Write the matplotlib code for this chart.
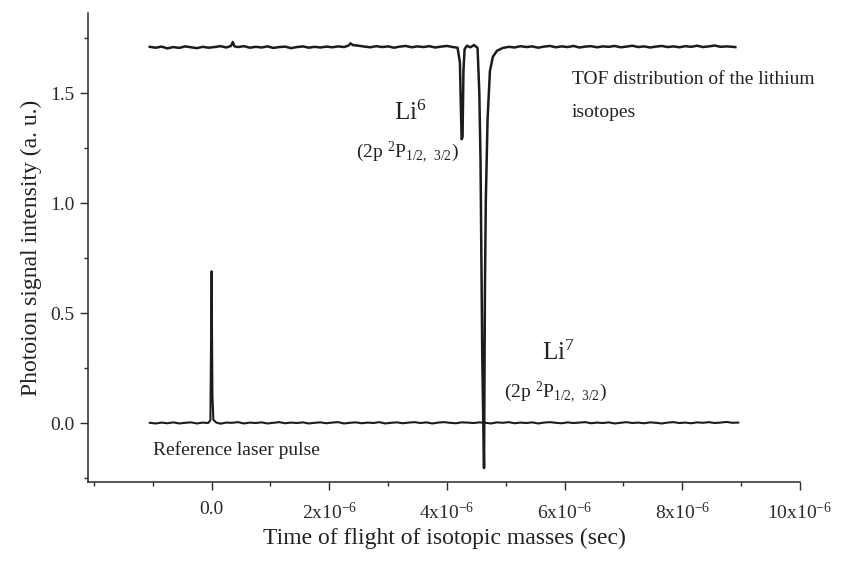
import matplotlib
matplotlib.use("Agg")
import matplotlib.pyplot as plt
from matplotlib.ticker import MultipleLocator, FuncFormatter

plt.rcParams['font.family'] = ['Liberation Serif', 'DejaVu Serif']
plt.rcParams['mathtext.default'] = 'regular'
plt.rcParams['axes.unicode_minus'] = False

# --- TOF trace of the lithium isotopes (time in microseconds, signal in a.u.) ---
tof_t = [-1.05, -0.95, -0.85, -0.75, -0.65, -0.55, -0.45, -0.35, -0.25, -0.15,
         -0.05, 0.05, 0.15, 0.25, 0.33, 0.36, 0.39, 0.45, 0.55, 0.65,
         0.75, 0.85, 0.95, 1.05, 1.15, 1.25, 1.35, 1.45, 1.55, 1.65,
         1.75, 1.85, 1.95, 2.05, 2.15, 2.25, 2.33, 2.36, 2.40, 2.50,
         2.60, 2.70, 2.80, 2.90, 3.00, 3.10, 3.20, 3.30, 3.40, 3.50,
         3.60, 3.70, 3.80, 3.90, 4.00, 4.10, 4.18,
         4.22, 4.235, 4.25, 4.265, 4.28, 4.30, 4.34, 4.40, 4.46, 4.52,
         4.55, 4.57, 4.60, 4.63, 4.645, 4.66, 4.69, 4.73, 4.78, 4.85,
         4.95, 5.05, 5.15, 5.25, 5.35, 5.45, 5.55, 5.65, 5.75, 5.85,
         5.95, 6.05, 6.15, 6.25, 6.35, 6.45, 6.55, 6.65, 6.75, 6.85,
         6.95, 7.05, 7.15, 7.25, 7.35, 7.45, 7.55, 7.65, 7.75, 7.85,
         7.95, 8.05, 8.15, 8.25, 8.35, 8.45, 8.55, 8.65, 8.75, 8.90]
tof_s = [1.710, 1.706, 1.711, 1.703, 1.709, 1.705, 1.712, 1.708, 1.704, 1.710,
         1.706, 1.709, 1.713, 1.707, 1.714, 1.732, 1.712, 1.709, 1.713, 1.706,
         1.710, 1.707, 1.712, 1.705, 1.709, 1.711, 1.704, 1.709, 1.712, 1.706,
         1.710, 1.707, 1.711, 1.708, 1.712, 1.709, 1.716, 1.726, 1.718, 1.715,
         1.711, 1.708, 1.713, 1.709, 1.712, 1.706, 1.711, 1.714, 1.708, 1.712,
         1.709, 1.713, 1.707, 1.711, 1.714, 1.709, 1.706,
         1.640, 1.450, 1.290, 1.300, 1.600, 1.700, 1.715, 1.708, 1.718, 1.705,
         1.500, 1.200, 0.300, -0.205, 0.600, 1.010, 1.380, 1.600, 1.665, 1.692,
         1.705, 1.710, 1.707, 1.713, 1.709, 1.712, 1.706, 1.711, 1.714, 1.708,
         1.712, 1.709, 1.714, 1.707, 1.711, 1.713, 1.708, 1.712, 1.710, 1.714,
         1.708, 1.711, 1.715, 1.709, 1.712, 1.707, 1.711, 1.714, 1.709, 1.712,
         1.708, 1.713, 1.710, 1.715, 1.709, 1.712, 1.716, 1.710, 1.712, 1.709]

# --- reference laser pulse trace ---
ref_t = [-1.05, -0.95, -0.85, -0.75, -0.65, -0.55, -0.45, -0.35, -0.25, -0.15,
         -0.06, -0.02, 0.00, 0.015, 0.03, 0.08, 0.15, 0.25, 0.35, 0.45,
         0.55, 0.65, 0.75, 0.85, 0.95, 1.05, 1.15, 1.25, 1.35, 1.45,
         1.55, 1.65, 1.75, 1.85, 1.95, 2.05, 2.15, 2.25, 2.35, 2.45,
         2.55, 2.65, 2.75, 2.85, 2.95, 3.05, 3.15, 3.25, 3.35, 3.45,
         3.55, 3.65, 3.75, 3.85, 3.95, 4.05, 4.15, 4.25, 4.35, 4.45,
         4.55, 4.65, 4.75, 4.85, 4.95, 5.05, 5.15, 5.25, 5.35, 5.45,
         5.55, 5.65, 5.75, 5.85, 5.95, 6.05, 6.15, 6.25, 6.35, 6.45,
         6.55, 6.65, 6.75, 6.85, 6.95, 7.05, 7.15, 7.25, 7.35, 7.45,
         7.55, 7.65, 7.75, 7.85, 7.95, 8.05, 8.15, 8.25, 8.35, 8.45,
         8.55, 8.65, 8.75, 8.85, 8.95]
ref_s = [0.001, -0.002, 0.002, -0.001, 0.003, -0.002, 0.001, 0.003, -0.002, 0.002,
         0.000, 0.012, 0.690, 0.120, 0.015, 0.002, -0.003, 0.002, 0.001, 0.004,
         -0.002, 0.002, 0.000, 0.003, -0.002, 0.001, 0.004, -0.001, 0.002, 0.000,
         0.003, -0.002, 0.001, 0.003, -0.001, 0.002, 0.004, -0.002, 0.001, 0.003,
         -0.001, 0.002, 0.000, 0.004, -0.002, 0.001, 0.003, -0.001, 0.002, 0.004,
         0.000, 0.003, -0.002, 0.002, 0.004, 0.001, -0.001, 0.003, 0.002, 0.000,
         0.003, 0.001, -0.002, 0.003, 0.001, 0.004, -0.001, 0.002, 0.000, 0.003,
         -0.002, 0.002, 0.004, 0.001, -0.001, 0.003, 0.000, 0.002, 0.004, -0.001,
         0.002, 0.000, 0.003, -0.002, 0.001, 0.004, 0.000, 0.002, -0.001, 0.003,
         0.001, -0.002, 0.002, 0.004, 0.000, 0.002, -0.001, 0.003, 0.001, 0.004,
         0.000, 0.002, 0.005, 0.001, 0.002]

x_ticks = [0, 2e-6, 4e-6, 6e-6, 8e-6, 10e-6]
x_tick_labels = ['0.0', '2x10$^{-6}$', '4x10$^{-6}$', '6x10$^{-6}$',
                 '8x10$^{-6}$', '10x10$^{-6}$']

ink = '#1c1c1c'

fig = plt.figure(figsize=(8.52, 5.63), dpi=100)
ax = fig.add_axes([0.1033, 0.1439, 0.8357, 0.8331])

ax.plot([t * 1e-6 for t in tof_t], tof_s, color=ink, lw=1.8)
ax.plot([t * 1e-6 for t in ref_t], ref_s, color=ink, lw=1.5)

ax.set_xlim(-2.1e-6, 10e-6)
ax.set_ylim(-0.268, 1.864)

ax.spines['top'].set_visible(False)
ax.spines['right'].set_visible(False)
for s in ('left', 'bottom'):
    ax.spines[s].set_linewidth(1.1)
    ax.spines[s].set_color('#2a2a2a')

ax.set_xticks(x_ticks)
ax.set_xticklabels(x_tick_labels)
ax.xaxis.set_minor_locator(MultipleLocator(1e-6))
ax.yaxis.set_major_locator(MultipleLocator(0.5))
ax.yaxis.set_minor_locator(MultipleLocator(0.25))
ax.yaxis.set_major_formatter(FuncFormatter(lambda v, p: f'{v:.1f}'))
ax.tick_params(which='major', direction='out', length=6, width=1.0,
               labelsize=14, colors='#2a2a2a')
ax.tick_params(which='minor', direction='out', length=3, width=1.0, colors='#2a2a2a')
ax.tick_params(axis='x', pad=8)

ax.set_xlabel('Time of flight of isotopic masses (sec)', fontsize=17, labelpad=4,
              color='#222222')
ax.set_ylabel('Photoion signal intensity (a. u.)', fontsize=17, labelpad=6,
              color='#222222')

# annotations
ax.text(6.12e-6, 1.56, 'TOF distribution of the lithium', fontsize=14,
        va='center', ha='left', color='#222222')
ax.text(6.12e-6, 1.41, 'isotopes', fontsize=14, va='center', ha='left', color='#222222')

ax.text(3.38e-6, 1.41, 'Li$^{6}$', fontsize=18, va='center', ha='center', color='#222222')
ax.text(3.33e-6, 1.23, '(2p $^{2}$P$_{1/2,\\ 3/2}$)', fontsize=14,
        va='center', ha='center', color='#222222')

ax.text(5.9e-6, 0.32, 'Li$^{7}$', fontsize=18, va='center', ha='center', color='#222222')
ax.text(5.85e-6, 0.14, '(2p $^{2}$P$_{1/2,\\ 3/2}$)', fontsize=14,
        va='center', ha='center', color='#222222')

ax.text(-0.99e-6, -0.125, 'Reference laser pulse', fontsize=14,
        va='center', ha='left', color='#222222')

fig.savefig('out.png', dpi=100)
